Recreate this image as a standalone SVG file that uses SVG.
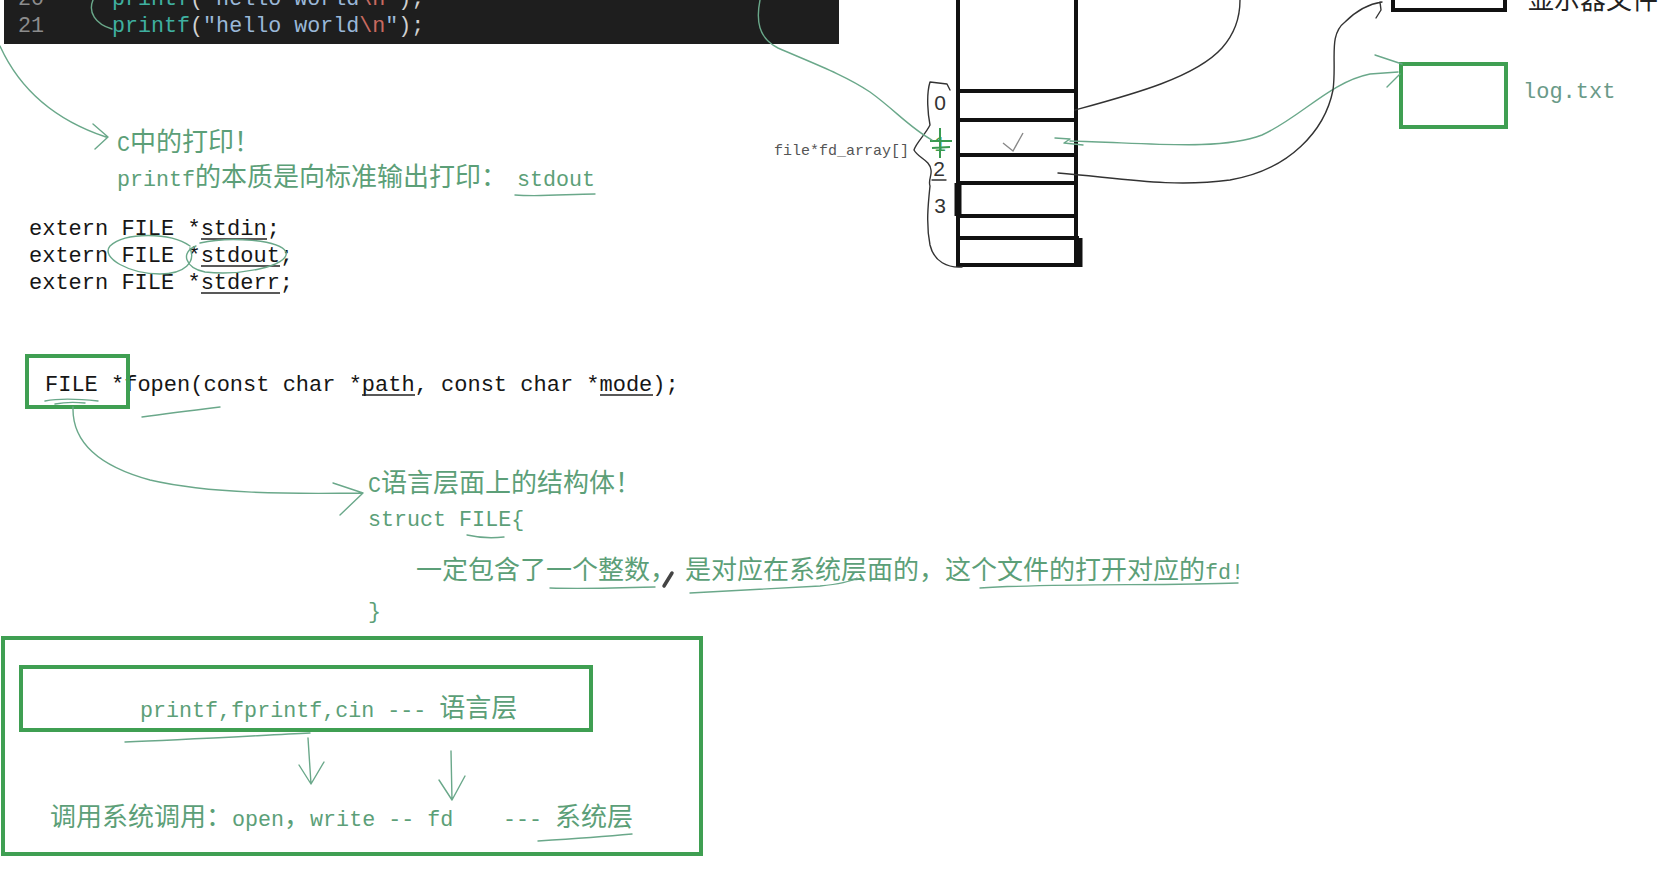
<svg xmlns="http://www.w3.org/2000/svg" width="1665" height="878" viewBox="0 0 1665 878">
<style>
.code{font-family:"Liberation Mono","Noto Sans CJK SC",monospace;font-size:22px;fill:#161616}
.g{font-family:"Noto Sans CJK SC",sans-serif;font-size:26px;fill:#5c9f78}
.lat{font-family:"Liberation Mono",monospace;font-size:21.7px}
.box{fill:none;stroke:#3f9f52;stroke-width:4}
.kbox{fill:none;stroke:#111;stroke-width:4}
.hand{fill:none;stroke:#6aa88a;stroke-width:1.4;stroke-linecap:round;stroke-linejoin:round}
.handk{fill:none;stroke:#333;stroke-width:1.4;stroke-linecap:round;stroke-linejoin:round}
.ul{stroke:#222;stroke-width:1.5}
.dig{font-family:"Liberation Sans",sans-serif;font-size:21px;fill:#333;text-anchor:middle}
.vs{font-family:"Liberation Mono",monospace;font-size:21.7px}
</style>
<rect width="1665" height="878" fill="#ffffff"/>

<g id="code-editor">
<rect x="4" y="0" width="835" height="44" fill="#1e1e1e"/>
<text class="vs" x="18" y="5" fill="#8c8c8c">20</text>
<text class="vs" x="112" y="5"><tspan fill="#3fb0a0">printf</tspan><tspan fill="#d0d0d0">(</tspan><tspan fill="#9ab8d8">"hello world</tspan><tspan fill="#c86a60">\n</tspan><tspan fill="#9ab8d8">"</tspan><tspan fill="#d0d0d0">);</tspan></text>
<text class="vs" x="18" y="32" fill="#8c8c8c">21</text>
<text class="vs" x="112" y="32"><tspan fill="#3fb0a0">printf</tspan><tspan fill="#d0d0d0">(</tspan><tspan fill="#9ab8d8">"hello world</tspan><tspan fill="#c86a60">\n</tspan><tspan fill="#9ab8d8">"</tspan><tspan fill="#d0d0d0">);</tspan></text>
</g>

<g id="c-print-note">
<text class="g" x="117" y="151"><tspan class="lat">C</tspan>中的打印！</text>
<text class="g" x="117" y="186"><tspan class="lat">printf</tspan>的本质是向标准输出打印：<tspan class="lat" x="517">stdout</tspan></text>
<path class="hand" d="M515 195 C540 197 570 194 595 194"/>
</g>

<g id="extern-decls">
<text class="code" x="29" y="235">extern FILE *stdin;</text>
<text class="code" x="29" y="262">extern FILE *stdout;</text>
<text class="code" x="29" y="289">extern FILE *stderr;</text>
<line class="ul" x1="201" y1="239" x2="267" y2="239"/>
<line class="ul" x1="201" y1="266" x2="280" y2="266"/>
<line class="ul" x1="201" y1="293" x2="280" y2="293"/>
<path class="hand" d="M190 246 C170 232 125 232 110 246 C100 258 130 274 160 274 C185 274 196 262 190 248"/>
<path class="hand" d="M200 243 C230 236 280 240 286 252 C290 266 240 276 205 272 C185 268 180 252 196 246"/>
</g>

<g id="fopen-decl">
<text class="code" x="45" y="391">FILE *fopen(const char *path, const char *mode);</text>
<line class="ul" x1="362" y1="395" x2="415" y2="395"/>
<line class="ul" x1="600" y1="395" x2="653" y2="395"/>
<rect class="box" x="27" y="356" width="101" height="51"/>
<path class="hand" d="M45 401 C60 398 80 399 98 401 M55 404 C65 402 75 402 85 403"/>
<path class="hand" d="M142 417 C170 413 195 410 220 407"/>
</g>

<g id="struct-note">
<text class="g" x="368" y="492"><tspan class="lat">C</tspan>语言层面上的结构体！</text>
<text class="g" x="368" y="526"><tspan class="lat">struct FILE{</tspan></text>
<path class="hand" d="M467 535 C480 538 495 538 504 537"/>
<text class="g" x="416" y="579">一定包含了一个整数，</text>
<text class="g" x="685" y="579">是对应在系统层面的，这个文件的打开对应的<tspan class="lat">fd!</tspan></text>
<path d="M664 586 L672 573" stroke="#444" stroke-width="3.5" stroke-linecap="round"/>
<path class="hand" d="M550 588 C585 589 620 588 655 587"/>
<path class="hand" d="M690 593 C740 590 790 588 820 586 C840 584 850 582 857 578"/>
<path class="hand" d="M980 588 C1060 583 1160 586 1238 583"/>
<text class="g" x="368" y="618"><tspan class="lat">}</tspan></text>
</g>

<g id="layers">
<rect class="box" x="3" y="638" width="698" height="216"/>
<rect class="box" x="21" y="667" width="570" height="63"/>
<text class="g" x="140" y="717"><tspan class="lat">printf,fprintf,cin --- </tspan>语言层</text>
<text class="g" x="50" y="826">调用系统调用：<tspan class="lat">open</tspan>，<tspan class="lat">write -- fd</tspan><tspan class="lat" x="503">---</tspan><tspan x="555">系统层</tspan></text>
<path class="hand" d="M538 841 C570 839 600 837 632 834"/>
<path class="hand" d="M125 742 C180 740 250 736 310 733"/>
</g>

<g id="fd-array">
<line class="kbox" x1="958" y1="0" x2="958" y2="267"/>
<line class="kbox" x1="1076" y1="0" x2="1076" y2="267"/>
<line class="kbox" x1="958" y1="91" x2="1076" y2="91"/>
<line class="kbox" x1="958" y1="120" x2="1076" y2="120"/>
<line class="kbox" x1="958" y1="155" x2="1076" y2="155"/>
<line class="kbox" x1="956" y1="183" x2="1076" y2="183"/>
<line class="kbox" x1="956" y1="216" x2="1076" y2="216"/>
<line class="kbox" x1="958" y1="238" x2="1079" y2="238"/>
<line class="kbox" x1="958" y1="265" x2="1079" y2="265"/>
<line x1="958" y1="183" x2="958" y2="216" stroke="#111" stroke-width="7"/>
<line x1="1079" y1="238" x2="1079" y2="267" stroke="#111" stroke-width="7"/>
<text x="774" y="155" font-family="Liberation Mono, monospace" font-size="15" fill="#555">file*fd_array[]</text>
<text class="dig" x="940" y="110">0</text>
<text class="dig" x="940" y="151" style="fill:#3a9a50">1</text>
<path d="M930 141 L952 141 M932 148 L950 147 M940 128 L940 158" stroke="#3a9a50" stroke-width="2" fill="none"/>
<text class="dig" x="939" y="176">2</text>
<text class="dig" x="940" y="213">3</text>
<path class="handk" d="M950 90 L947 84 L930 82 C926 95 928 115 930 125 C925 135 916 143 914 150 C918 158 930 160 931 170 C932 176 928 180 930 186 C928 205 926 225 930 245 C934 262 948 268 962 267"/>
<path class="handk" d="M932 180 L946 180"/>
<path d="M1003 143 L1013 151 L1023 133" fill="none" stroke="#888" stroke-width="1.4"/>
</g>

<g id="display-file">
<rect class="kbox" x="1393" y="-30" width="112" height="40"/>
<text x="1528" y="9" font-family="Noto Sans CJK SC, sans-serif" font-size="26" fill="#222">显示器文件</text>
</g>

<g id="log-file">
<rect class="box" x="1401" y="64" width="105" height="63"/>
<text x="1523" y="98" font-family="Liberation Mono, monospace" font-size="22" fill="#6a9a88">log.txt</text>
</g>

<g id="connectors">
<path class="hand" d="M93 0 C88 12 95 24 112 29"/>
<path class="hand" d="M0 46 C20 90 55 120 106 137 M93 124 L108 137 L95 149"/>
<path class="hand" d="M73 407 C72 440 95 465 150 480 C210 494 290 494 363 493 M333 483 L363 493 L340 515"/>
<path class="hand" d="M760 0 C756 20 758 38 778 48 C810 62 845 75 870 92 C895 110 910 128 932 140"/>
<path class="handk" d="M1075 110 C1130 95 1195 78 1222 48 C1238 30 1240 12 1240 0"/>
<path class="hand" d="M1055 138 L1070 139 L1064 143 L1083 145 M1070 141 C1150 143 1220 151 1262 135 C1300 118 1330 82 1370 74 L1398 72 M1375 55 L1402 64 M1387 87 L1400 74"/>
<path class="handk" d="M1058 173 C1120 178 1170 188 1230 180 C1290 170 1325 130 1333 90 C1337 60 1328 35 1345 22 C1355 12 1368 4 1382 2 M1380 2 L1381 10 L1376 18"/>
<path class="hand" d="M308 738 C309 752 310 768 311 784 M299 765 L311 784 L324 762"/>
<path class="hand" d="M451 751 L452 800 M439 780 L452 800 L465 776"/>
</g>
</svg>
